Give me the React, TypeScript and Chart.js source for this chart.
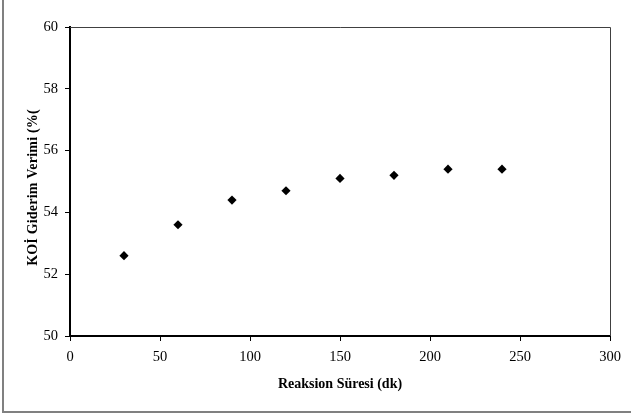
import React, { useEffect, useRef } from "react";
import { Chart, registerables } from "chart.js";

Chart.register(...registerables);

const reactionTimes = [30, 60, 90, 120, 150, 180, 210, 240];
const codRemoval = [52.6, 53.6, 54.4, 54.7, 55.1, 55.2, 55.4, 55.4];
const xTitle = "Reaksion Süresi (dk)";
const yTitle = "KOİ Giderim Verimi (%(";

const FONT = '"Liberation Serif", "Times New Roman", serif';

const framePlugin = {
  id: "framePlugin",
  beforeDraw(chart: any) {
    const ctx = chart.ctx;
    ctx.save();
    ctx.fillStyle = "#ffffff";
    ctx.fillRect(0, 0, chart.width, chart.height);
    ctx.strokeStyle = "#808080";
    ctx.lineWidth = 2;
    ctx.beginPath();
    ctx.moveTo(3, 0);
    ctx.lineTo(3, 412);
    ctx.lineTo(chart.width, 412);
    ctx.stroke();
    ctx.restore();
  },
  beforeDatasetsDraw(chart: any) {
    const { ctx, chartArea } = chart;
    ctx.save();
    ctx.strokeStyle = "#404040";
    ctx.lineWidth = 1;
    ctx.beginPath();
    ctx.moveTo(chartArea.left, chartArea.top + 0.5);
    ctx.lineTo(chartArea.right + 0.5, chartArea.top + 0.5);
    ctx.lineTo(chartArea.right + 0.5, chartArea.bottom);
    ctx.stroke();
    ctx.restore();
  },
  afterDraw(chart: any) {
    const { ctx, chartArea } = chart;
    ctx.save();
    ctx.translate(37, (chartArea.top + chartArea.bottom) / 2 + 6);
    ctx.rotate(-Math.PI / 2);
    ctx.font = `bold 14px ${FONT}`;
    (ctx as any).letterSpacing = "0.2px";
    ctx.fillStyle = "#000000";
    ctx.textAlign = "center";
    ctx.textBaseline = "alphabetic";
    ctx.fillText(yTitle, 0, 0);
    ctx.restore();
  },
};

export default function App() {
  const canvasRef = useRef<HTMLCanvasElement | null>(null);

  useEffect(() => {
    if (!canvasRef.current) return;
    const chart = new Chart(canvasRef.current, {
      type: "scatter",
      data: {
        datasets: [
          {
            data: reactionTimes.map((x, i) => ({ x, y: codRemoval[i] })),
            pointStyle: "rectRot",
            pointRadius: 4.6,
            pointBackgroundColor: "#000000",
            pointBorderColor: "#000000",
            pointBorderWidth: 0,
            pointHoverRadius: 4.6,
            showLine: false,
          },
        ],
      },
      options: {
        responsive: false,
        animation: false,
        events: [],
        layout: { padding: { top: 27, right: 21, left: 0, bottom: 0 } },
        plugins: {
          legend: { display: false },
          tooltip: { enabled: false },
          title: { display: false },
        },
        scales: {
          x: {
            type: "linear",
            min: 0,
            max: 300,
            afterFit(scale: any) {
              scale.height = 78;
            },
            ticks: {
              stepSize: 50,
              padding: 7,
              color: "#000000",
              font: { family: FONT, size: 14.5 },
              maxRotation: 0,
            },
            grid: {
              drawOnChartArea: false,
              drawTicks: true,
              tickLength: 5,
              tickColor: "#000000",
              tickWidth: 1,
            },
            border: { display: true, color: "#000000", width: 2 },
            title: {
              display: true,
              text: xTitle,
              color: "#000000",
              font: { family: FONT, size: 14, weight: "bold" },
              padding: { top: 0, bottom: 21 },
            },
          },
          y: {
            type: "linear",
            min: 50,
            max: 60,
            afterFit(scale: any) {
              scale.width = 70;
            },
            ticks: {
              stepSize: 2,
              padding: 7,
              color: "#000000",
              font: { family: FONT, size: 14.5 },
            },
            grid: {
              drawOnChartArea: false,
              drawTicks: true,
              tickLength: 5,
              tickColor: "#000000",
              tickWidth: 1,
            },
            border: { display: true, color: "#000000", width: 2 },
          },
        },
      },
      plugins: [framePlugin],
    });
    return () => chart.destroy();
  }, []);

  return (
    <div style={{ position: "absolute", left: 0, top: 0, width: 631, height: 414 }}>
      <canvas ref={canvasRef} width={631} height={414} style={{ display: "block" }} />
    </div>
  );
}
